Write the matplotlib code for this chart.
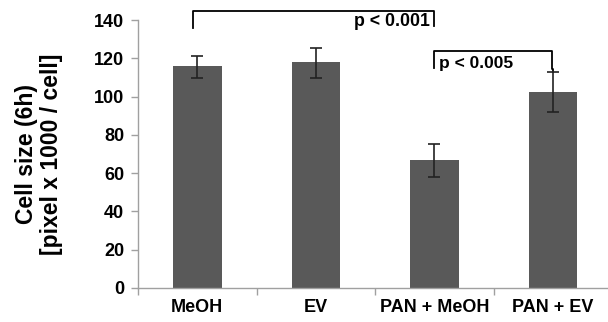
import numpy as np
import matplotlib.pyplot as plt

categories = ['MeOH', 'EV', 'PAN + MeOH', 'PAN + EV']
values = [116, 118, 67, 102.5]
err_low = [6, 8, 9, 10.5]
err_high = [5, 7.5, 8.5, 10.5]

plt.rcParams['font.family'] = 'Liberation Sans'
plt.rcParams['font.weight'] = 'bold'

fig = plt.figure(figsize=(6.08, 3.22), dpi=100)
ax = fig.add_axes([0.227, 0.1056, 0.78, 0.832])

x = np.arange(len(categories))
ax.bar(x, values, width=0.41, color='#595959', zorder=2)
ax.errorbar(x, values, yerr=[err_low, err_high], fmt='none', ecolor='#222222',
            elinewidth=1.2, capsize=4, capthick=1.2, zorder=3)

ax.set_xlim(-0.5, 3.5)
ax.set_ylim(0, 140)
ax.set_yticks(range(0, 141, 20))
ax.set_xticks(x)
ax.set_xticklabels(categories, fontsize=13, fontweight='bold')
ax.set_xticks(np.arange(-0.5, 3.6, 1), minor=True)
ax.tick_params(axis='x', which='major', length=0, pad=8)
ax.tick_params(axis='x', which='minor', length=5, color='#a0a0a0', width=1)
ax.tick_params(axis='y', length=5, color='#a0a0a0', width=1, labelsize=13, pad=5)
for lab in ax.get_yticklabels():
    lab.set_fontweight('bold')

for s in ['top', 'right']:
    ax.spines[s].set_visible(False)
for s in ['left', 'bottom']:
    ax.spines[s].set_color('#a0a0a0')
    ax.spines[s].set_linewidth(1)

ax.set_ylabel('Cell size (6h)\n[pixel x 1000 / cell]', fontsize=16.5, fontweight='bold',
              labelpad=22, linespacing=1.15)

# significance brackets
ax.plot([-0.04, -0.04, 2, 2], [136, 145, 145, 137], color='black', lw=1.3, clip_on=False)
ax.text(1.96, 139.5, 'p < 0.001', ha='right', va='center', fontsize=12.8, fontweight='bold')
ax.plot([2, 2, 2.99, 2.99, 3, 3], [115, 124, 124, 114.5, 114.5, 113], color='black', lw=1.3,
        clip_on=False)
ax.text(2.04, 117.5, 'p < 0.005', ha='left', va='center', fontsize=12.5, fontweight='bold')

fig.savefig('out.png', dpi=100)
